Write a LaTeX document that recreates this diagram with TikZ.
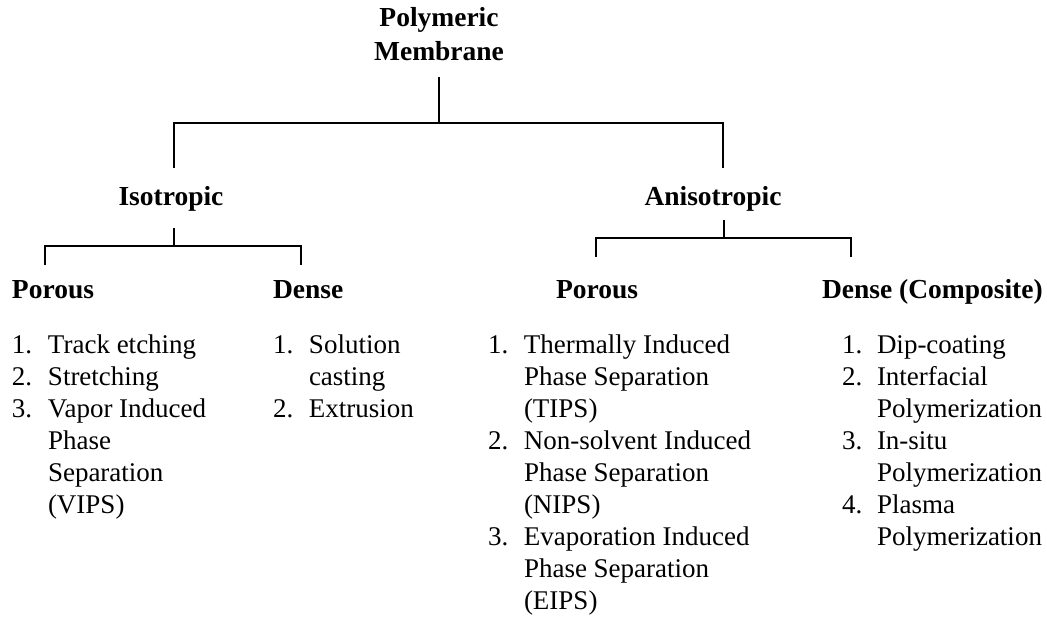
\documentclass[tikz,border=0pt]{standalone}
\usepackage{fontspec}
\setmainfont{Liberation Serif}
\usepackage{array}
\begin{document}
\begin{tikzpicture}[x=1pt,y=-1pt,
  every node/.style={inner sep=0pt,outer sep=0pt,font=\fontsize{27}{32}\selectfont},
  head/.style={font=\fontsize{27.5}{33}\selectfont\bfseries},
  itemlist/.style={anchor=base west},
  conn/.style={line width=1.3pt,black}]
\useasboundingbox (0,0) rectangle (1047,621);
\newcolumntype{N}{@{}p{36pt}@{}l@{}}
% headers
\node[head,anchor=base] (pm) at (439,27) {\begin{tabular}[t]{@{}c@{}}Polymeric\\Membrane\end{tabular}};
\node[head,anchor=base] (iso) at (171,205) {Isotropic};
\node[head,anchor=base] (aniso) at (713,205) {Anisotropic};
\node[head,anchor=base west] (isop) at (12,298) {Porous};
\node[head,anchor=base west] (isod) at (273,298) {Dense};
\node[head,anchor=base west] (anip) at (556,298) {Porous};
\node[head,anchor=base west] (anid) at (822,298) {Dense (Composite)};
% lists
\node[itemlist] (l1) at (12,353) {\begin{tabular}[t]{N}
1. & Track etching\\
2. & Stretching\\
3. & Vapor Induced\\
   & Phase\\
   & Separation\\
   & (VIPS)
\end{tabular}};
\node[itemlist] (l2) at (273,353) {\begin{tabular}[t]{N}
1. & Solution\\
   & casting\\
2. & Extrusion
\end{tabular}};
\node[itemlist] (l3) at (488,353) {\begin{tabular}[t]{N}
1. & Thermally Induced\\
   & Phase Separation\\
   & (TIPS)\\
2. & Non-solvent Induced\\
   & Phase Separation\\
   & (NIPS)\\
3. & Evaporation Induced\\
   & Phase Separation\\
   & (EIPS)
\end{tabular}};
\node[itemlist] (l4) at (842,353) {\begin{tabular}[t]{@{}p{35pt}@{}l@{}}
1. & Dip-coating\\
2. & Interfacial\\
   & Polymerization\\
3. & In-situ\\
   & Polymerization\\
4. & Plasma\\
   & Polymerization
\end{tabular}};
% bracket coordinates
\coordinate (pm-a) at (439,77);
\coordinate (pm-j) at (439,123);
\coordinate (iso-a) at (174,168);
\coordinate (aniso-a) at (723,168);
\coordinate (iso-b) at (174,228);
\coordinate (iso-j) at (174,246);
\coordinate (isop-a) at (45,265);
\coordinate (isod-a) at (301,265);
\coordinate (aniso-b) at (724,220);
\coordinate (aniso-j) at (724,238);
\coordinate (anip-a) at (596,257);
\coordinate (anid-a) at (851,257);
% connectors
\draw[conn] (pm-a) -- (pm-j);
\draw[conn] (iso-a) |- (pm-j) -| (aniso-a);
\draw[conn] (iso-b) -- (iso-j);
\draw[conn] (isop-a) |- (iso-j) -| (isod-a);
\draw[conn] (aniso-b) -- (aniso-j);
\draw[conn] (anip-a) |- (aniso-j) -| (anid-a);
\end{tikzpicture}
\end{document}
